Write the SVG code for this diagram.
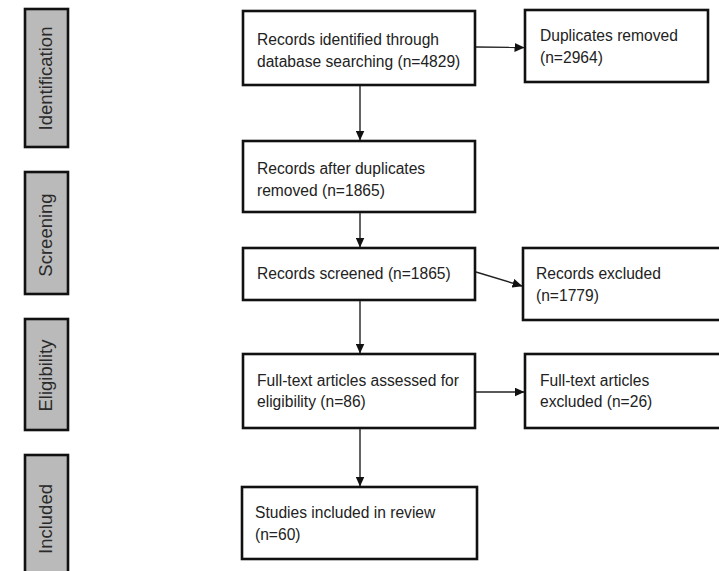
<svg xmlns="http://www.w3.org/2000/svg" width="719" height="571" viewBox="0 0 719 571">
<defs>
<marker id="ah" markerWidth="10" markerHeight="9" refX="9.5" refY="4.5" orient="auto" markerUnits="userSpaceOnUse">
<path d="M0,0 L10,4.5 L0,9 Z" fill="#111"/>
</marker>
<style>
.box{fill:#fff;stroke:#111;stroke-width:2.6}
.side{fill:#bababa;stroke:#111;stroke-width:2.6}
.t{font-family:"Liberation Sans",Arial,sans-serif;font-size:15.6px;fill:#222}
.st{font-family:"Liberation Sans",Arial,sans-serif;font-size:18.5px;fill:#2a2a2a;text-anchor:middle}
.c{stroke:#222;stroke-width:1.4;fill:none;marker-end:url(#ah)}
</style>
</defs>
<rect width="719" height="571" fill="#fff"/>
<g id="stage-identification"><rect class="side" x="25" y="9" width="43" height="138"/><text class="st" transform="translate(52,78.5) rotate(-90)">Identification</text></g>
<g id="stage-screening"><rect class="side" x="25" y="172" width="43" height="122"/><text class="st" transform="translate(52,235) rotate(-90)">Screening</text></g>
<g id="stage-eligibility"><rect class="side" x="25" y="319" width="43" height="111"/><text class="st" transform="translate(52,375.5) rotate(-90)">Eligibility</text></g>
<g id="stage-included"><rect class="side" x="25" y="455" width="43" height="130"/><text class="st" transform="translate(52,519) rotate(-90)">Included</text></g>
<g id="n-identified"><rect class="box" x="243" y="11" width="232" height="74"/><text class="t" x="257" y="45">Records identified through</text><text class="t" x="257" y="67">database searching (n=4829)</text></g>
<g id="n-duplicates"><rect class="box" x="525" y="10" width="183" height="72"/><text class="t" x="540" y="41">Duplicates removed</text><text class="t" x="540" y="63">(n=2964)</text></g>
<g id="n-after"><rect class="box" x="243" y="141" width="232" height="71"/><text class="t" x="257" y="174">Records after duplicates</text><text class="t" x="257" y="196">removed (n=1865)</text></g>
<g id="n-screened"><rect class="box" x="243" y="248" width="232" height="52"/><text class="t" x="257" y="279">Records screened (n=1865)</text></g>
<g id="n-excluded"><rect class="box" x="523" y="248" width="210" height="72"/><text class="t" x="536" y="279">Records excluded</text><text class="t" x="536" y="301">(n=1779)</text></g>
<g id="n-fulltext"><rect class="box" x="243" y="354" width="232" height="74"/><text class="t" x="257" y="386">Full-text articles assessed for</text><text class="t" x="257" y="407">eligibility (n=86)</text></g>
<g id="n-ftexcluded"><rect class="box" x="525" y="354" width="210" height="74"/><text class="t" x="540" y="386">Full-text articles</text><text class="t" x="540" y="407">excluded (n=26)</text></g>
<g id="n-included"><rect class="box" x="242" y="487" width="235" height="72"/><text class="t" x="255" y="518">Studies included in review</text><text class="t" x="255" y="540">(n=60)</text></g>
<g id="connectors">
<line class="c" x1="476" y1="47" x2="524" y2="47.5"/>
<line class="c" x1="360" y1="86" x2="360" y2="140"/>
<line class="c" x1="360" y1="213" x2="360" y2="247"/>
<line class="c" x1="476" y1="272" x2="522" y2="286"/>
<line class="c" x1="360" y1="301" x2="360" y2="353"/>
<line class="c" x1="476" y1="392" x2="524" y2="392"/>
<line class="c" x1="360" y1="429" x2="360" y2="486"/>
</g>
</svg>
